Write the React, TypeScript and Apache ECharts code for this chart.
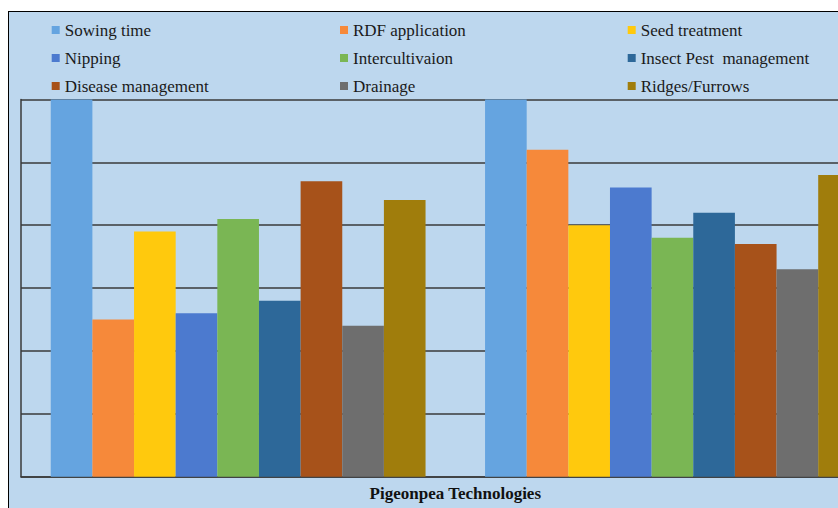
import React, { useEffect, useRef } from "react";
import * as echarts from "echarts";

const categories = ["Group 1", "Group 2"];
const seriesNames = [
  "Sowing time",
  "RDF application",
  "Seed treatment",
  "Nipping",
  "Intercultivaion",
  "Insect Pest  management",
  "Disease management",
  "Drainage",
  "Ridges/Furrows",
];
const sowingTime = [60, 60];
const rdfApplication = [25, 52];
const seedTreatment = [39, 40];
const nipping = [26, 46];
const intercultivaion = [41, 38];
const insectPest = [28, 42];
const diseaseManagement = [47, 37];
const drainage = [24, 33];
const ridgesFurrows = [44, 48];
const seriesValues = [
  sowingTime,
  rdfApplication,
  seedTreatment,
  nipping,
  intercultivaion,
  insectPest,
  diseaseManagement,
  drainage,
  ridgesFurrows,
];
const colors = [
  "#65A4E0",
  "#F6893A",
  "#FFC90D",
  "#4C7ACF",
  "#7AB654",
  "#2D6899",
  "#A7521A",
  "#6E6E6E",
  "#A07D0C",
];
const legendColumns = [
  ["Sowing time", "Nipping", "Disease management"],
  ["RDF application", "Intercultivaion", "Drainage"],
  ["Seed treatment", "Insect Pest  management", "Ridges/Furrows"],
];
const axisTitle = "Pigeonpea Technologies";

export default function App() {
  const ref = useRef<HTMLDivElement>(null);
  useEffect(() => {
    if (!ref.current) return;
    const chart = echarts.init(ref.current, null, { renderer: "svg" });
    const font = "Liberation Serif";
    const legendLefts = [42.7, 331, 618.7];
    chart.setOption({
      animation: false,
      backgroundColor: "#BDD7EE",
      color: colors,
      textStyle: { fontFamily: font },
      legend: legendColumns.map((col, i) => ({
        data: col,
        orient: "vertical",
        left: legendLefts[i],
        top: 9.5,
        itemWidth: 8,
        itemHeight: 8,
        itemGap: 11,
        icon: "rect",
        padding: 0,
        selectedMode: false,
        textStyle: {
          fontFamily: font,
          fontSize: 17,
          lineHeight: 17,
          color: "#1a1a1a",
        },
      })),
      grid: {
        left: 12,
        top: 87.5,
        right: 19.4,
        bottom: 31.3,
        containLabel: false,
      },
      xAxis: {
        type: "category",
        data: categories,
        name: axisTitle,
        nameLocation: "middle",
        nameGap: 8,
        nameTextStyle: {
          fontFamily: font,
          fontSize: 17,
          fontWeight: "bold",
          color: "#111",
        },
        axisLine: { show: true, lineStyle: { color: "#3a3a3a", width: 1.5 } },
        axisTick: { show: false },
        axisLabel: { show: false },
      },
      yAxis: {
        type: "value",
        min: 0,
        max: 60,
        interval: 10,
        axisLine: { show: true, lineStyle: { color: "#3a3a3a", width: 1.5 } },
        axisTick: { show: false },
        axisLabel: { show: false },
        splitLine: { show: true, lineStyle: { color: "#3a3a3a", width: 1.5 } },
      },
      series: seriesNames.map((name, i) => ({
        name,
        type: "bar",
        data: seriesValues[i],
        barGap: "0%",
        barCategoryGap: "13.7%",
        itemStyle: { color: colors[i] },
      })),
    });
    return () => chart.dispose();
  }, []);
  return (
    <div
      style={{
        position: "fixed",
        left: 0,
        top: 0,
        width: 838,
        height: 508,
        background: "#fff",
        overflow: "hidden",
      }}
    >
      <div
        style={{
          position: "absolute",
          left: 8,
          top: 11,
          width: 830,
          height: 497,
          borderTop: "1px solid #000",
          borderLeft: "1px solid #000",
          boxSizing: "border-box",
          overflow: "hidden",
        }}
      >
        <div ref={ref} style={{ width: 900, height: 496 }} />
      </div>
    </div>
  );
}
